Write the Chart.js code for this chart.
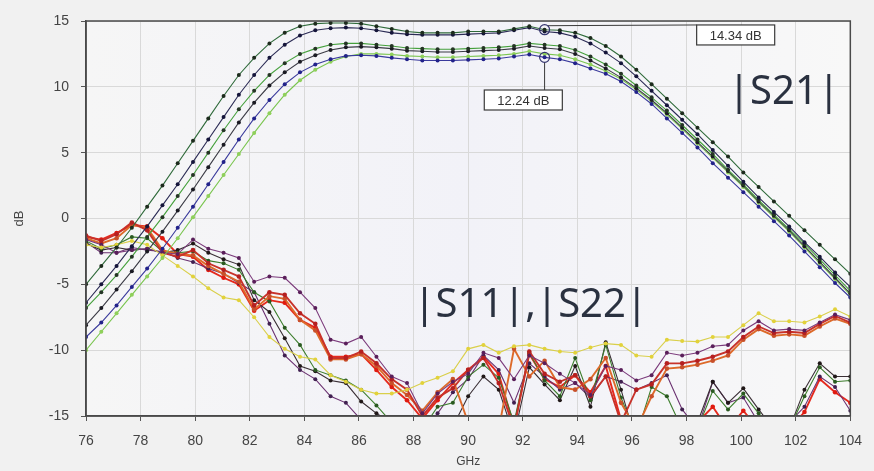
<!DOCTYPE html>
<html><head><meta charset="utf-8">
<script src="https://cdn.jsdelivr.net/npm/chart.js@4.4.1/dist/chart.umd.min.js"></script>
<style>html,body{margin:0;padding:0;background:#f1f1f1;}canvas{display:block;}</style>
</head><body>
<canvas id="c" width="874" height="471"></canvas>
<script>
// ---------- data ----------
const freqGHz = [76,76.56,77.12,77.68,78.24,78.8,79.36,79.92,80.48,81.04,81.6,82.16,82.72,83.28,83.84,84.4,84.96,85.52,86.08,86.64,87.2,87.76,88.32,88.88,89.44,90,90.56,91.12,91.68,92.24,92.8,93.36,93.92,94.48,95.04,95.6,96.16,96.72,97.28,97.84,98.4,98.96,99.52,100.08,100.64,101.2,101.76,102.32,102.88,103.44,104];
const xTickValues = [76,78,80,82,84,86,88,90,92,94,96,98,100,102,104];
const yTickValues = [-15,-10,-5,0,5,10,15];

// |S21| curves (dB)
const s21A = [-5.0,-3.6,-2.2,-0.7,0.9,2.5,4.2,5.9,7.6,9.3, 10.9,12.2,13.3,14.1,14.6,14.8,14.85,14.85,14.8,14.6, 14.4,14.2,14.1,14.1,14.1,14.2,14.2,14.2,14.4,14.6, 14.34,14.3,14.1,13.7,13.1,12.3,11.3,10.2,9.1,8.0, 6.9,5.8,4.7,3.5,2.4,1.3,0.2,-0.9,-2.0,-3.1,-4.2];
const s21B = [-6.4,-5.0,-3.6,-2.1,-0.6,1.0,2.6,4.3,6.0,7.7, 9.4,10.9,12.2,13.2,13.9,14.3,14.45,14.5,14.45,14.3, 14.1,14.0,13.95,13.95,13.95,14.0,14.05,14.1,14.3,14.5, 14.2,14.1,13.8,13.3,12.6,11.8,10.8,9.7,8.6,7.5, 6.4,5.2,4.0,2.8,1.6,0.5,-0.6,-1.8,-2.9,-4.1,-5.2];
const s21C = [-6.8,-5.6,-4.3,-2.9,-1.4,0.1,1.7,3.3,5.0,6.7, 8.3,9.7,10.9,11.8,12.5,12.9,13.2,13.3,13.3,13.2, 13.1,12.95,12.9,12.85,12.85,12.9,12.95,13.0,13.1,13.3, 13.2,13.1,12.8,12.3,11.7,11.0,10.1,9.2,8.2,7.1, 6.0,4.9,3.7,2.6,1.4,0.3,-0.8,-1.9,-3.1,-4.3,-5.5];
const s21D = [-8.1,-6.8,-5.4,-4.0,-2.5,-1.0,0.6,2.2,3.9,5.6, 7.3,8.8,10.1,11.1,11.9,12.4,12.8,13.0,13.05,13.0, 12.9,12.75,12.7,12.65,12.65,12.7,12.75,12.8,12.9,13.1, 12.95,12.85,12.5,12.0,11.4,10.7,9.9,9.0,8.0,6.9, 5.8,4.7,3.6,2.5,1.3,0.2,-0.9,-2.1,-3.3,-4.5,-5.7];
const s21E = [-9.0,-7.9,-6.6,-5.2,-3.8,-2.3,-0.7,0.9,2.6,4.3, 6.0,7.6,9.0,10.2,11.1,11.7,12.1,12.35,12.4,12.35, 12.2,12.1,12.0,12.0,12.0,12.05,12.1,12.15,12.3,12.45, 12.24,12.1,11.8,11.4,11.0,10.4,9.6,8.7,7.6,6.5, 5.4,4.2,3.1,2.0,0.9,-0.2,-1.3,-2.5,-3.7,-4.9,-6.0];
const s21F = [-10.0,-8.6,-7.2,-5.8,-4.4,-3.0,-1.5,0.1,1.7,3.3, 4.9,6.5,8.0,9.4,10.5,11.3,11.9,12.3,12.5,12.5, 12.45,12.35,12.3,12.25,12.25,12.3,12.35,12.4,12.5,12.7, 12.5,12.4,12.1,11.7,11.2,10.6,9.8,8.9,7.9,6.8, 5.7,4.6,3.5,2.4,1.2,0.1,-1.0,-2.2,-3.4,-4.6,-5.8];

// |S11|,|S22| curves (dB); values below -15 run off the plot
const sxxYellow = [-2.0,-2.2,-2.0,-1.7,-2.0,-2.8,-3.6,-4.4,-5.3,-6.0, -6.2,-7.5,-9.0,-9.9,-10.5,-10.7,-11.9,-12.4,-13.0,-13.3, -13.3,-13.0,-12.5,-12.1,-11.6,-9.9,-9.6,-10.2,-9.7,-9.6, -9.9,-10.1,-10.2,-9.8,-9.5,-9.6,-10.4,-10.5,-9.2,-9.3, -9.35,-9.0,-9.0,-8.1,-7.2,-7.8,-7.8,-7.9,-7.45,-6.9,-7.45];
const sxxPurple = [-1.6,-2.0,-2.6,-2.4,-2.3,-2.6,-2.7,-1.6,-2.3,-2.6, -3.0,-4.8,-4.4,-4.5,-5.6,-6.8,-9.2,-9.5,-9.0,-10.5, -12.0,-12.5,-14.8,-13.3,-12.4,-11.8,-10.2,-10.6,-12.2,-10.4, -11.0,-11.8,-12.5,-13.4,-11.2,-11.5,-12.3,-11.9,-10.2,-10.4, -10.2,-9.7,-9.6,-8.5,-7.8,-8.5,-8.4,-8.5,-7.9,-7.3,-7.7];
const sxxRed = [-1.3,-1.7,-1.2,-0.3,-0.9,-2.6,-2.9,-2.4,-3.4,-3.9, -4.4,-6.6,-5.6,-5.8,-7.2,-8.0,-10.6,-10.6,-10.1,-11.0, -12.2,-13.0,-15.0,-13.6,-12.9,-11.5,-10.6,-12.5,-16.0,-10.1, -11.8,-12.4,-11.9,-13.5,-12.0,-15.5,-13.0,-12.6,-11.0,-11.0, -10.8,-10.5,-10.1,-9.0,-8.2,-8.7,-8.6,-8.7,-8.0,-7.4,-7.9];
const sxxOrange = [-1.5,-1.9,-1.5,-0.5,-0.7,-2.4,-2.7,-2.8,-3.6,-4.2, -4.8,-6.9,-5.9,-6.1,-7.7,-8.5,-10.7,-10.7,-10.3,-11.2, -12.5,-13.4,-14.6,-13.2,-12.2,-15.5,-18,-16,-9.9,-12.0, -10.8,-12.8,-13.0,-12.2,-10.6,-14.0,-16,-13.5,-11.4,-11.3, -11.1,-10.8,-10.4,-9.2,-8.4,-8.9,-8.8,-8.9,-8.2,-7.6,-8.0];
const sxxGreen = [-1.7,-2.3,-2.0,-1.4,-1.5,-2.5,-2.6,-2.5,-3.2,-3.4, -3.9,-5.6,-6.3,-8.3,-9.6,-11.5,-11.9,-12.3,-13.0,-14.2, -15.5,-17,-16,-14.3,-14.0,-12.0,-11.1,-12.1,-15.5,-10.2, -12.3,-13.5,-10.6,-13.8,-9.6,-13.6,-16.5,-12.8,-13.5,-16, -16,-13.1,-14.5,-13.3,-14.8,-16,-16,-13.5,-11.3,-12.4,-12.3];
const sxxBlack = [-1.9,-2.4,-2.2,-2.4,-2.3,-2.6,-2.4,-1.9,-2.6,-3.1, -3.5,-6.2,-7.1,-9.1,-11.2,-11.6,-12.3,-12.5,-13.9,-14.8, -15.5,-16.5,-17,-16.5,-15.8,-13.5,-12.0,-13.0,-16.5,-11.3, -12.6,-13.8,-11.2,-14.3,-9.4,-13.0,-17,-16,-16,-16.5, -15.5,-12.4,-14.0,-12.9,-14.5,-16,-16,-13.0,-11.0,-12.0,-12.0];
const sxxViolet = [-1.8,-2.6,-2.6,-2.2,-2.4,-2.5,-3.0,-3.3,-3.8,-4.2, -4.9,-5.6,-8.0,-10.4,-11.5,-12.2,-13.5,-14.0,-15.3,-16.5, -17,-17,-16.0,-14.8,-13.2,-12.2,-10.4,-11.5,-14.0,-11.0, -12.0,-13.0,-12.5,-13.6,-12.0,-12.4,-13.0,-12.5,-11.9,-14.5, -16,-12.4,-14.0,-13.6,-15.5,-16.5,-15.5,-14.3,-12.0,-12.8,-14.6];
const sxxBrightRed = [-1.4,-1.6,-1.1,-0.5,-0.6,-1.5,-2.7,-2.9,-3.9,-4.5, -5.0,-7.0,-6.2,-6.4,-7.7,-8.3,-10.5,-10.5,-10.3,-11.5, -12.8,-13.8,-15.2,-13.8,-12.5,-11.5,-10.5,-11.8,-15.8,-10.3, -12.2,-12.8,-11.9,-13.2,-11.2,-15.3,-16.5,-16.5,-16.5,-16.5, -15.5,-14.3,-16,-14.6,-16,-16.5,-16,-14.7,-12.2,-13.2,-14.0];

// marker readouts
const markerFreq = [92.8, 92.8];
const markerValue = [14.34, 12.24];
const markerText = ["14.34 dB", "12.24 dB"];
const groupLabels = ["|S21|", "|S11|,|S22|"];

// ---------- styles / layout (not data) ----------
const boxAnchor = [{x:99.8, y:13.94, leader:'left'}, {x:92.02, y:9.0, leader:'top'}];
const groupLabelAnchor = [{x:99.52, y:9.55}, {x:88.0, y:-6.65}];

const styles = {
  s21A:['#2f6a3a','#1d2b1d'], s21B:['#2b2b55','#15153a'], s21C:['#45a03c','#253525'],
  s21D:['#3b3b45','#1a1a22'], s21E:['#3a3a9c','#22228a'], s21F:['#7ac54f','#8fd05a'],
  sxxYellow:['#d9cf4a','#e2d23a'], sxxPurple:['#7b3a7b','#5a1f5a'], sxxRed:['#c8322a','#b52020'],
  sxxOrange:['#dd6a2a','#c8502a'], sxxGreen:['#3c7d2c','#2a5a20'], sxxBlack:['#3a2f35','#201818'],
  sxxViolet:['#6a3070','#402050'], sxxBrightRed:['#e52a1e','#e01a10']
};
const series = {s21A,s21B,s21C,s21D,s21E,s21F,sxxYellow,sxxPurple,sxxRed,sxxOrange,sxxGreen,sxxBlack,sxxViolet,sxxBrightRed};

const datasets = Object.keys(series).map(name => {
  const isRed = name==='sxxRed'||name==='sxxOrange'||name==='sxxBrightRed';
  return {
    label:name,
    data: freqGHz.map((f,i)=>({x:f, y:series[name][i]})),
    borderColor: styles[name][0],
    backgroundColor: styles[name][1],
    pointBackgroundColor: styles[name][1],
    pointBorderWidth:0,
    pointRadius: isRed?2.3:2,
    borderWidth: isRed?1.9:1.1,
    tension:0
  };
});

const bgPlugin = {
  id:'bg',
  beforeDraw(chart){
    const {ctx, chartArea:a} = chart;
    ctx.save();
    ctx.fillStyle='#f1f1f1'; ctx.fillRect(0,0,chart.width,chart.height);
    const g = ctx.createLinearGradient(a.left,0,a.right,0);
    g.addColorStop(0,'#f6f6f6'); g.addColorStop(0.5,'#f2f2f8'); g.addColorStop(1,'#f8f8f8');
    ctx.fillStyle=g; ctx.fillRect(a.left,a.top,a.width,a.height);
    ctx.restore();
  }
};

const annotPlugin = {
  id:'annot',
  afterDatasetsDraw(chart){
    const {ctx, chartArea:a, scales:{x,y}} = chart;
    ctx.save();
    ctx.strokeStyle='#4a4a4a'; ctx.lineWidth=1.5;
    ctx.strokeRect(a.left,a.top,a.width,a.height);
    ctx.font='13px "Liberation Sans", Arial, sans-serif';
    markerFreq.forEach((f,i)=>{
      const px=x.getPixelForValue(f), py=y.getPixelForValue(markerValue[i]);
      const bx=x.getPixelForValue(boxAnchor[i].x), by=y.getPixelForValue(boxAnchor[i].y);
      const w=ctx.measureText(markerText[i]).width+26, h=20;
      const l=bx-w/2, t=by-h/2;
      ctx.strokeStyle='#3a3a3a'; ctx.lineWidth=1;
      ctx.beginPath();
      if(boxAnchor[i].leader==='left'){ ctx.moveTo(px+3,py-4); ctx.lineTo(l,t); }
      else { ctx.moveTo(px,py+5); ctx.lineTo(px,t); }
      ctx.stroke();
      ctx.strokeStyle='#34346e'; ctx.lineWidth=1.2;
      ctx.beginPath(); ctx.arc(px,py,5,0,Math.PI*2); ctx.stroke();
      ctx.fillStyle='#ffffff'; ctx.fillRect(l,t,w,h);
      ctx.strokeStyle='#3a3a3a'; ctx.lineWidth=1.2; ctx.strokeRect(l,t,w,h);
      ctx.fillStyle='#333'; ctx.textAlign='center'; ctx.textBaseline='middle';
      ctx.fillText(markerText[i], bx, by+1);
    });
    ctx.font='40px "Noto Sans", "Open Sans", sans-serif';
    ctx.fillStyle='#2a3140'; ctx.textAlign='left'; ctx.textBaseline='middle';
    groupLabels.forEach((t,i)=>{
      ctx.fillText(t, x.getPixelForValue(groupLabelAnchor[i].x), y.getPixelForValue(groupLabelAnchor[i].y));
    });
    ctx.restore();
  }
};

new Chart(document.getElementById('c'), {
  type:'line',
  data:{datasets},
  options:{
    responsive:false, animation:false, devicePixelRatio:1,
    layout:{padding:{left:0,right:13,top:21,bottom:0}},
    plugins:{legend:{display:false}, tooltip:{enabled:false}},
    scales:{
      x:{type:'linear', min:76, max:104,
        afterBuildTicks:s=>{s.ticks=xTickValues.map(v=>({value:v}));},
        afterFit:s=>{s.height=55;},
        ticks:{padding:12, color:'#444', font:{family:'"Liberation Sans", Arial', size:14}, maxRotation:0, autoSkip:false},
        grid:{color:'#d9d9d9', lineWidth:1, drawTicks:true, tickLength:5, tickColor:'#555'},
        border:{color:'#4a4a4a', width:1.5},
        title:{display:true, text:'GHz', color:'#444', font:{family:'"Liberation Sans", Arial', size:12}, padding:{top:0,bottom:2}}
      },
      y:{type:'linear', min:-15, max:15,
        afterBuildTicks:s=>{s.ticks=yTickValues.map(v=>({value:v}));},
        afterFit:s=>{s.width=86;},
        ticks:{padding:12, color:'#444', font:{family:'"Liberation Sans", Arial', size:14}},
        grid:{color:'#d9d9d9', lineWidth:1, drawTicks:true, tickLength:5, tickColor:'#555'},
        border:{color:'#4a4a4a', width:1.5},
        title:{display:true, text:'dB', color:'#444', font:{family:'"Liberation Sans", Arial', size:13}, padding:{top:12,bottom:0}}
      }
    }
  },
  plugins:[bgPlugin, annotPlugin]
});
</script>
</body></html>
